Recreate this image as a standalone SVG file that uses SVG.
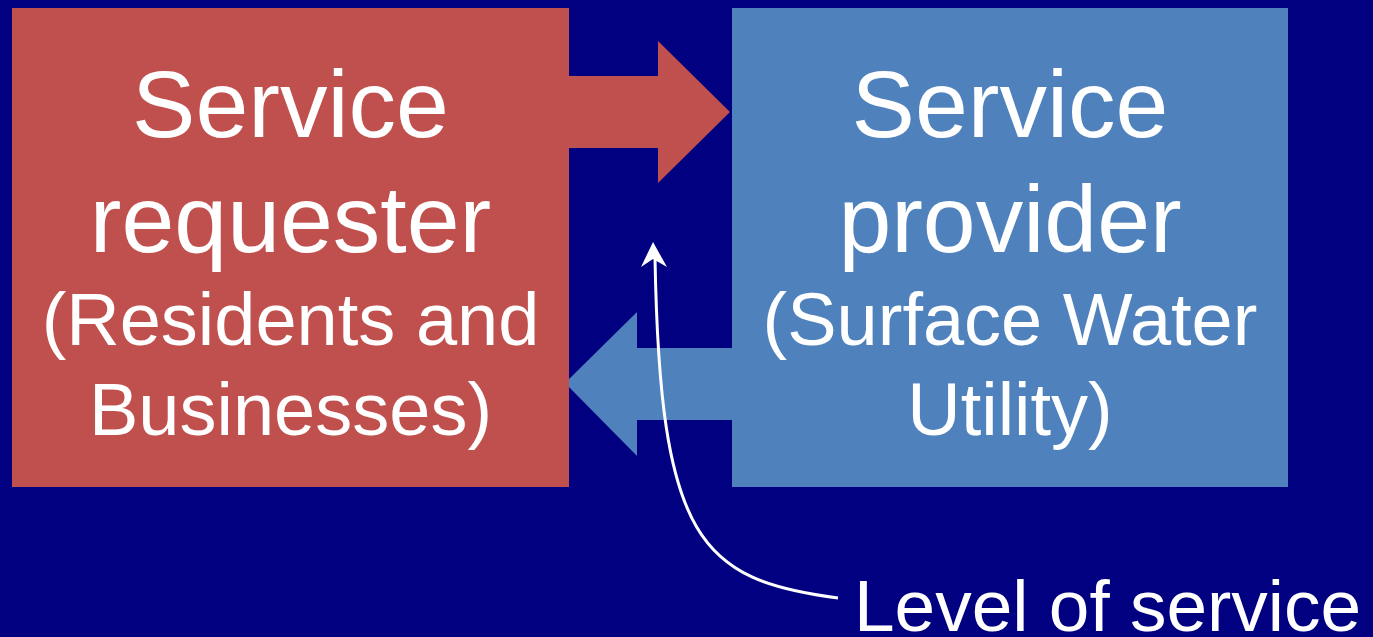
<svg xmlns="http://www.w3.org/2000/svg" width="1373" height="637" viewBox="0 0 1373 637">
  <style>
    .lbl { font-family: "Liberation Sans", Arial, sans-serif; fill: #FFFFFF; text-anchor: middle; }
    .big { font-size: 95px; }
    .sub { font-size: 74px; }
    .red { fill: #C0504D; }
    .blue { fill: #4F81BD; }
  </style>
  <rect x="0" y="0" width="1373" height="637" fill="#000080"/>

  <!-- block arrows between the two parties -->
  <g id="connectors">
    <polygon class="red" points="560,76 658,76 658,41 730,112 658,183 658,148 560,148"/>
    <polygon class="blue" points="740,348 637,348 637,312 565,383 637,456 637,420 740,420"/>
  </g>

  <g id="requester">
    <rect class="red" x="12" y="8" width="557" height="479"/>
    <text class="lbl big" x="290.5" y="137">Service</text>
    <text class="lbl big" x="290.5" y="252">requester</text>
    <text class="lbl sub" x="290.5" y="345">(Residents and</text>
    <text class="lbl sub" x="290.5" y="435">Businesses)</text>
  </g>

  <g id="provider">
    <rect class="blue" x="732" y="8" width="556" height="479"/>
    <text class="lbl big" x="1010" y="137">Service</text>
    <text class="lbl big" x="1010" y="252">provider</text>
    <text class="lbl sub" x="1010" y="345">(Surface Water</text>
    <text class="lbl sub" x="1010" y="435">Utility)</text>
  </g>

  <!-- level of service pointer -->
  <g id="level-of-service">
    <path d="M838,598 C700,580 660,540 655,258" fill="none" stroke="#FFFFFF" stroke-width="3"/>
    <path d="M653,242 L641,267 L653,259 L667,267 Z" fill="#FFFFFF"/>
    <text x="854" y="631" font-family="Liberation Sans, Arial, sans-serif" font-size="73" fill="#FFFFFF">Level of service</text>
  </g>
</svg>
